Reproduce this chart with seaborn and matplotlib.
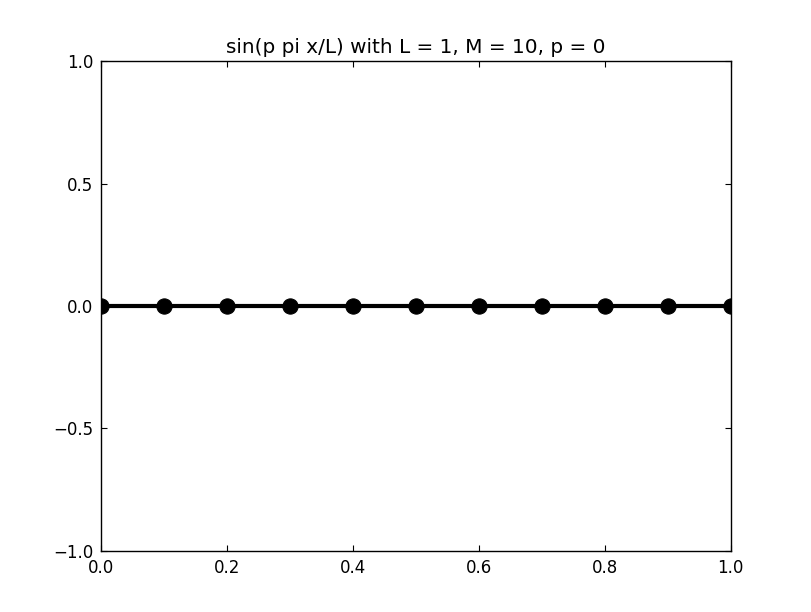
import matplotlib
matplotlib.use('Agg')
import matplotlib.pyplot as plt
import seaborn as sns
import pandas as pd

# grid points and values of sin(p pi x/L) for p = 0
x_vals = [0.0, 0.1, 0.2, 0.3, 0.4, 0.5, 0.6, 0.7, 0.8, 0.9, 1.0]
y_vals = [0.0, 0.0, 0.0, 0.0, 0.0, 0.0, 0.0, 0.0, 0.0, 0.0, 0.0]
x_ticks = [0.0, 0.2, 0.4, 0.6, 0.8, 1.0]
y_ticks = [-1.0, -0.5, 0.0, 0.5, 1.0]

sns.set_style('white')
plt.rcParams['font.family'] = ['DejaVu Sans']
plt.rcParams['text.color'] = 'black'

df = pd.DataFrame({'x': x_vals, 'y': y_vals})

fig = plt.figure(figsize=(8.12, 6.12), dpi=100)
ax = fig.add_axes([0.125, 0.1, 0.775, 0.8])
sns.lineplot(data=df, x='x', y='y', ax=ax, color='black', linewidth=3,
             marker='o', markersize=11, markeredgecolor='black')

ax.set_xlim(0, 1)
ax.set_ylim(-1, 1)
ax.set_xticks(x_ticks)
ax.set_yticks(y_ticks)
ax.set_xticklabels([f'{v:.1f}' for v in x_ticks])
ax.set_yticklabels([f'{v:.1f}'.replace('-', '\u2212') for v in y_ticks])
ax.tick_params(direction='in', length=4, width=0.8, top=True, right=True,
               bottom=True, left=True, labelsize=12, colors='black', pad=6)
for s in ax.spines.values():
    s.set_color('black')
    s.set_linewidth(1.0)
ax.set_xlabel('')
ax.set_ylabel('')
ax.set_title('sin(p pi x/L) with L = 1, M = 10, p = 0', fontsize=14.4, color='black')

fig.savefig('out.png', dpi=100, facecolor='white')
